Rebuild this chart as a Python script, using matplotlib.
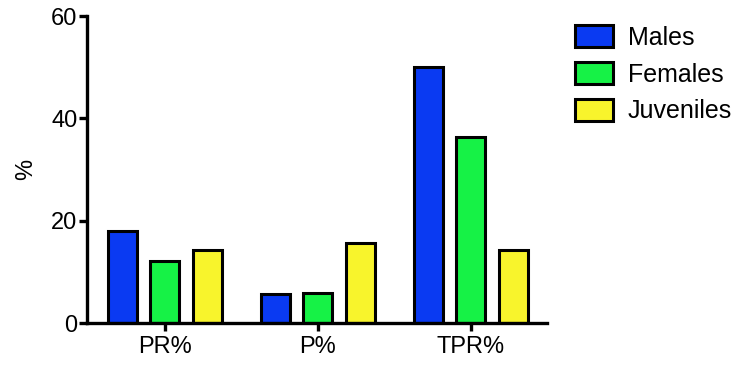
import numpy as np
import matplotlib
matplotlib.use('Agg')
import matplotlib.pyplot as plt

plt.rcParams['font.family'] = ['Liberation Sans', 'DejaVu Sans']

# data
groups = ['PR%', 'P%', 'TPR%']
series = ['Males', 'Females', 'Juveniles']
males = [18.0, 5.7, 50.0]
females = [12.1, 5.8, 36.3]
juveniles = [14.3, 15.6, 14.3]
colours = ['#0A3AF2', '#16F246', '#F8F42C']

fig = plt.figure(figsize=(7.4, 3.65), dpi=100)
ax = fig.add_axes([0.1176, 0.115, 0.6216, 0.841])

x = np.arange(len(groups))
width = 0.19
pitch = 0.278
for i, (vals, name) in enumerate(zip([males, females, juveniles], series)):
    ax.bar(x + (i - 1) * pitch, vals, width, color=colours[i], edgecolor='black',
           linewidth=2.2, label=name, zorder=2)

ax.set_xlim(-0.51, 2.5)
ax.set_ylim(0, 60)
ax.set_yticks([0, 20, 40, 60])
ax.set_xticks(x)
ax.set_xticklabels(groups)
ax.set_ylabel('%', fontsize=17, labelpad=10)

for s in ['top', 'right']:
    ax.spines[s].set_visible(False)
for s in ['left', 'bottom']:
    ax.spines[s].set_linewidth(2.4)
ax.tick_params(axis='both', width=2.4, length=6, labelsize=17, colors='black')
ax.tick_params(axis='y', pad=1)
ax.tick_params(axis='x', pad=3)

fig.legend(loc='upper left', bbox_to_anchor=(0.764, 0.958), frameon=False,
           fontsize=18, handlelength=1.5, handleheight=0.95, handletextpad=0.6,
           labelspacing=0.5, borderaxespad=0)

fig.savefig('out.png', dpi=100)
